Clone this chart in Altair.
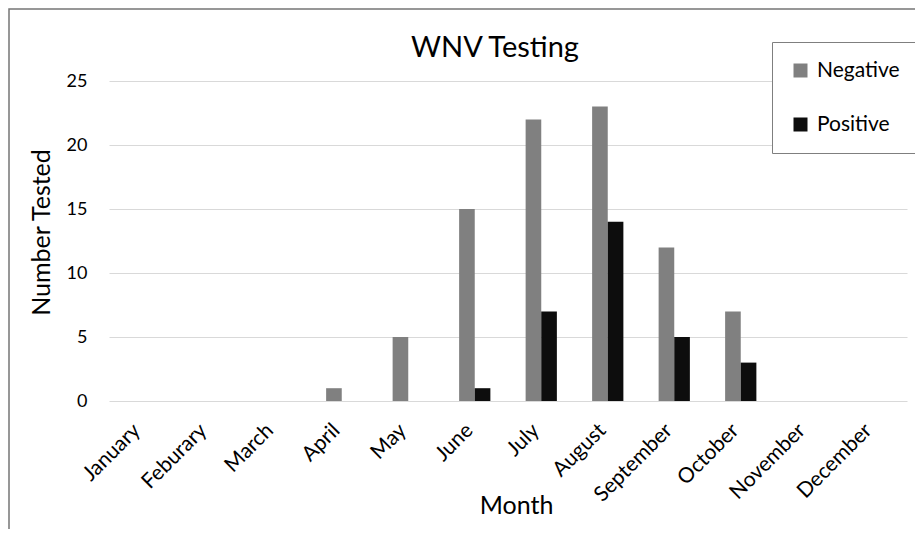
import altair as alt
import pandas as pd

months = ["January", "Feburary", "March", "April", "May", "June", "July",
          "August", "September", "October", "November", "December"]
negative = [0, 0, 0, 1, 5, 15, 22, 23, 12, 7, 0, 0]
positive = [0, 0, 0, 0, 0, 1, 7, 14, 5, 3, 0, 0]
series = ["Negative", "Positive"]
colors = ["#808080", "#0d0d0d"]
y_ticks = [0, 5, 10, 15, 20, 25]

rows = []
for m, n, p in zip(months, negative, positive):
    rows.append({"Month": m, "Result": "Negative", "Count": n})
    rows.append({"Month": m, "Result": "Positive", "Count": p})
df = pd.DataFrame(rows)

FONT = "Lato"
W, H = 798, 320

bars = alt.Chart(df).mark_bar(strokeWidth=0).encode(
    x=alt.X("Month:N", sort=months,
            scale=alt.Scale(paddingInner=0.53, paddingOuter=0.265),
            axis=alt.Axis(title="Month", labelAngle=-45, labelAlign="right",
                          labelBaseline="middle", labelPadding=26,
                          labelOffset=-5, ticks=False,
                          domain=False, grid=False, labelFont=FONT,
                          labelFontSize=21, labelColor="#000000",
                          titleFont=FONT, titleFontSize=25, titleFontWeight="normal",
                          titleColor="#000000", titleX=407, titleY=104,
                          titleAlign="center", titleBaseline="middle")),
    xOffset=alt.XOffset("Result:N", sort=series,
                        scale=alt.Scale(paddingInner=0, paddingOuter=0)),
    y=alt.Y("Count:Q", scale=alt.Scale(domain=[0, 25]),
            axis=alt.Axis(title="Number Tested", values=y_ticks, ticks=False,
                          domain=False, grid=True, gridColor="#d9d9d9",
                          gridWidth=1, labelPadding=22, labelFont=FONT,
                          labelFontSize=18, labelColor="#000000",
                          titleFont=FONT, titleFontSize=25, titleFontWeight="normal",
                          titleColor="#000000", titleX=-68, titleY=151,
                          titleAngle=-90, titleAlign="center",
                          titleBaseline="middle")),
    color=alt.Color("Result:N", sort=series,
                    scale=alt.Scale(domain=series, range=colors),
                    legend=alt.Legend(title=None, orient="none", legendX=663,
                                      legendY=-39, direction="vertical",
                                      symbolType="square", symbolSize=196,
                                      symbolStrokeWidth=0, labelFont=FONT,
                                      labelFontSize=21, labelColor="#000000",
                                      rowPadding=32, padding=18, labelOffset=6,
                                      strokeColor="#7f7f7f", fillColor="white")),
)

border = alt.Chart(pd.DataFrame({"k": [0]})).mark_rect(
    fill="white", fillOpacity=0, stroke="#767676", strokeWidth=1.5
).encode(
    x=alt.value(-100), x2=alt.value(900), y=alt.value(-72), y2=alt.value(700)
)

chart = alt.layer(border, bars).properties(
    width=W, height=H,
    title=alt.TitleParams("WNV Testing", font=FONT, fontSize=29,
                          fontWeight="normal", color="#000000",
                          anchor="middle", dx=-13, offset=-55),
    autosize=alt.AutoSizeParams(type="none"),
    padding={"left": 101, "top": 73, "right": 8, "bottom": 128},
    background="white",
).configure_view(stroke=None)

chart.save("out.html", embed_options={"renderer": "svg", "actions": False})
